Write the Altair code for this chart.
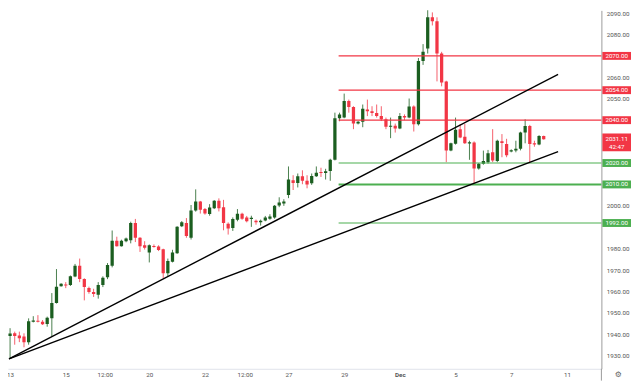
import altair as alt
import pandas as pd

# ---- data (XAU/USD 4H candles) ----
opens = [1947.9,1937.0,1939.3,1940.5,1939.5,1939.0,1936.4,1946.0,1946.3,1945.9,
1944.9,1947.5,1954.7,1962.5,1963.3,1963.1,1967.0,1972.0,1965.9,1961.7,
1959.8,1958.5,1963.1,1966.7,1972.0,1983.7,1981.2,1983.5,1984.0,1992.0,
1985.1,1981.6,1978.2,1981.3,1981.0,1979.7,1968.6,1973.9,1977.9,1990.5,
1992.0,1985.1,1997.8,2002.0,1998.5,1996.2,1998.9,2002.4,1999.4,1991.7,
1989.7,1993.5,1996.3,1994.6,1994.0,1993.1,1992.3,1993.2,1994.0,1994.6,
2000.2,2001.1,2005.1,2012.0,2010.7,2013.8,2011.7,2010.5,2013.8,2015.8,
2015.3,2016.3,2021.5,2040.9,2041.2,2048.9,2046.1,2038.4,2039.3,2045.0,
2044.2,2043.3,2041.9,2040.4,2036.9,2037.4,2036.1,2041.9,2041.2,2046.4,
2038.1,2067.6,2073.4,2088.0,2086.2,2071.1,2058.1,2025.8,2029.0,2035.8,
2032.3,2029.2,2029.6,2017.4,2019.7,2020.4,2025.0,2020.9,2030.2,2028.9,
2025.5,2025.8,2026.6,2034.2,2037.3,2029.2,2028.6,2032.6]

highs = [1949.5,1939.5,1942.9,1941.3,1941.3,1940.5,1947.5,1948.5,1949.0,1946.7,
1948.3,1959.3,1970.5,1963.9,1964.4,1967.5,1972.9,1975.4,1966.2,1962.3,
1961.3,1964.4,1967.1,1973.3,1988.5,1985.6,1984.2,1985.2,1992.6,1993.9,
1985.4,1983.5,1982.0,1982.0,1981.6,1980.0,1975.4,1979.5,1990.5,1992.9,
1994.3,2000.4,2007.7,2002.3,1999.0,2000.8,2002.7,2003.5,2002.8,1992.3,
1994.6,1998.5,1996.8,1995.3,1995.4,1993.6,1993.6,1995.3,1996.1,2000.4,
2004.0,2003.1,2018.4,2014.3,2015.1,2016.6,2014.3,2015.1,2018.4,2017.8,
2017.3,2022.0,2043.5,2043.5,2052.4,2049.6,2046.5,2039.6,2047.3,2049.6,
2046.5,2047.3,2046.5,2041.2,2041.2,2038.4,2043.3,2042.7,2050.1,2046.9,
2069.0,2075.5,2100.0,2090.3,2088.0,2071.9,2058.4,2029.5,2041.2,2038.1,
2038.3,2030.4,2030.1,2020.0,2025.8,2026.1,2035.8,2030.9,2033.5,2031.3,
2026.4,2030.4,2034.6,2040.4,2037.8,2030.4,2033.0,2032.8]

lows = [1935.5,1933.3,1929.0,1935.2,1936.4,1934.0,1935.2,1945.6,1945.6,1944.4,
1943.6,1939.0,1954.4,1962.3,1961.6,1962.6,1966.7,1964.4,1955.9,1959.0,
1957.5,1956.7,1962.1,1965.8,1971.3,1981.0,1981.0,1983.0,1982.5,1983.1,
1978.5,1979.6,1973.6,1980.5,1978.9,1966.2,1967.1,1973.6,1977.6,1990.1,
1985.1,1984.3,1997.3,1996.4,1995.9,1995.4,1998.5,1997.4,1988.6,1986.6,
1988.3,1992.8,1993.5,1992.3,1990.2,1991.2,1990.8,1992.8,1993.5,1994.0,
1999.4,2000.0,2003.6,2007.4,2008.6,2010.1,2008.2,2009.8,2013.5,2013.5,
2012.3,2011.7,2021.2,2039.5,2040.9,2043.5,2035.8,2038.0,2036.7,2041.9,
2041.9,2041.2,2039.6,2035.8,2031.6,2034.2,2035.8,2040.0,2040.9,2034.7,
2037.5,2065.8,2071.1,2084.2,2058.1,2055.8,2020.4,2025.5,2028.6,2031.6,
2028.9,2021.5,2010.5,2016.9,2019.2,2019.7,2020.4,2020.4,2022.7,2022.7,
2025.0,2025.0,2025.9,2029.2,2020.4,2027.6,2028.3,2030.9]

closes = [1936.9,1938.6,1940.4,1939.3,1938.2,1936.3,1946.2,1946.4,1946.0,1944.7,
1947.8,1954.7,1962.3,1963.6,1962.8,1967.1,1972.0,1965.9,1962.1,1959.8,
1958.9,1963.1,1966.4,1972.4,1983.7,1981.2,1983.7,1984.8,1992.0,1985.1,
1981.2,1980.5,1981.6,1980.8,1979.4,1968.6,1974.3,1978.2,1990.2,1992.3,
1985.9,1997.8,2002.0,1998.2,1996.4,1999.2,2002.4,1998.9,1992.0,1989.4,
1993.9,1996.3,1994.0,1992.8,1994.3,1992.3,1993.1,1994.6,1995.0,2000.0,
2001.6,2002.0,2012.3,2010.7,2013.8,2011.7,2010.0,2013.9,2015.5,2015.3,
2016.1,2021.5,2040.9,2042.7,2048.9,2046.2,2038.4,2039.3,2045.3,2044.2,
2043.4,2041.9,2040.4,2036.9,2037.4,2036.1,2041.9,2041.2,2046.4,2038.1,
2067.6,2071.9,2088.0,2086.2,2071.1,2057.6,2025.8,2029.2,2035.5,2031.9,
2029.2,2029.6,2017.4,2019.6,2020.9,2024.6,2021.2,2030.4,2029.3,2023.6,
2025.8,2026.6,2034.2,2037.3,2028.9,2028.6,2032.6,2031.1]

# x-axis ticks (candle index) and their labels
tick_pos = [2, 14, 22.4, 32, 44, 52.6, 62, 74, 86, 98, 110, 122]
tick_labels = ["13", "15", "12:00", "20", "22", "12:00", "27", "29", "Dec", "5", "7", "11"]
month_tick = 86

# y-axis tick values still visible beside the price badges
price_ticks = [1930, 1940, 1950, 1960, 1970, 1980, 2000, 2050, 2060, 2080, 2090]

# horizontal levels
res_levels = [2070, 2054, 2040]
sup_levels = [2020, 2010, 1992]
level_start = 72.8

# trendlines: shared origin, two end points
tl_start = (1.77, 1928.6)
tl_ends = [(120.1, 2061.4), (120.1, 2025.3)]

last_price = 2031.11
countdown = "42:47"

# ---- styling ----
GREEN = "#1b5e20"
RED = "#f23645"
LGREEN = "#4caf50"
FONT = "Roboto"
FS = 6.3

n = len(opens)
rows = []
for i in range(n):
    o, h, l, c = opens[i], highs[i], lows[i], closes[i]
    top, bot = max(o, c), min(o, c)
    if top - bot < 0.5:
        mid = (top + bot) / 2
        top, bot = mid + 0.25, mid - 0.25
    rows.append({"i": i, "open": o, "high": h, "low": l, "close": c,
                 "top": top, "bot": bot, "col": GREEN if c >= o else RED})
df = pd.DataFrame(rows)

lv = pd.DataFrame(
    [{"level": v, "x0": level_start, "x1": 135, "col": RED, "label": f"{v:.2f}"} for v in res_levels]
    + [{"level": v, "x0": level_start, "x1": 135, "col": LGREEN, "label": f"{v:.2f}"} for v in sup_levels]
)

tl = pd.DataFrame([{"x0": tl_start[0], "y0": tl_start[1], "x1": e[0], "y1": e[1]} for e in tl_ends])
cur = pd.DataFrame([{"price": last_price, "label": f"{last_price:.2f}", "timer": countdown}])

xs = alt.Scale(domain=[1.553, 129.43], nice=False, zero=False)
ys = alt.Scale(domain=[1923.96, 2091.244], nice=False, zero=False)

label_expr = ("[" + ",".join(f"'{t}'" for t in tick_labels) + "][indexof([" +
              ",".join(str(p) for p in tick_pos) + "], datum.value)]")

x_axis = alt.Axis(values=tick_pos, labelExpr=label_expr, grid=False, ticks=False,
                  domainColor="#e0e3eb", labelColor="#555555", labelFont=FONT,
                  labelFontSize=FS, labelPadding=3, labelOverlap=False,
                  labelFlush=False, labelBound=False, title=None,
                  labelFontWeight={"condition": {"test": f"datum.value == {month_tick}", "value": "bold"},
                                   "value": "normal"})
y_axis = alt.Axis(orient="right", values=price_ticks, format=".2f",
                  grid=False, ticks=False, domainColor="#9a9a9a", labelColor="#555555",
                  labelFont=FONT, labelFontSize=FS, labelPadding=5, labelAlign="left",
                  labelOverlap=False, labelBound=False, labelFlush=False, title=None)


def X(f):
    return alt.X(f, scale=xs, axis=x_axis, title=None)


def Y(f):
    return alt.Y(f, scale=ys, axis=y_axis, title=None)


base = alt.Chart(df)
wicks = base.mark_rule(strokeWidth=1, clip=True, opacity=0.8).encode(
    x=X("i:Q"), y=Y("low:Q"), y2="high:Q",
    color=alt.Color("col:N", scale=None),
)
bodies = base.mark_rule(strokeWidth=3.3, strokeCap="butt", clip=True).encode(
    x=X("i:Q"), y=Y("bot:Q"), y2="top:Q",
    color=alt.Color("col:N", scale=None),
)

levels = alt.Chart(lv).mark_rule(clip=True).encode(
    x=X("x0:Q"), x2="x1:Q", y=Y("level:Q"),
    color=alt.Color("col:N", scale=None),
    strokeWidth=alt.condition("datum.level == 2010", alt.value(2), alt.value(1.2)),
)

trend = alt.Chart(tl).mark_rule(color="#000000", strokeWidth=1.4, clip=True).encode(
    x=X("x0:Q"), x2="x1:Q", y=Y("y0:Q"), y2="y1:Q",
)

badges = alt.Chart(lv).mark_rule(strokeWidth=8, strokeCap="butt").encode(
    x=alt.value(602), x2=alt.value(631), y=Y("level:Q"),
    color=alt.Color("col:N", scale=None),
)
badge_txt = alt.Chart(lv).mark_text(color="white", font=FONT, fontSize=FS,
                                    align="center", baseline="middle").encode(
    x=alt.value(616.5), y=Y("level:Q"), text="label:N")

cur_badge = alt.Chart(cur).mark_rule(strokeWidth=18, strokeCap="butt", color=RED, yOffset=3.2).encode(
    x=alt.value(602), x2=alt.value(631), y=Y("price:Q"))
cur_txt1 = alt.Chart(cur).mark_text(color="white", font=FONT, fontSize=FS,
                                    align="center", baseline="middle").encode(
    x=alt.value(616.5), y=Y("price:Q"), text="label:N")
cur_txt2 = alt.Chart(cur).mark_text(color="white", font=FONT, fontSize=FS,
                                    align="center", baseline="middle", dy=7.6).encode(
    x=alt.value(616.5), y=Y("price:Q"), text="timer:N")

axis_ext = alt.Chart(cur).mark_rule(color="#9a9a9a", strokeWidth=1).encode(
    x=alt.value(601), y=alt.value(363), y2=alt.value(375))
gear = alt.Chart(cur).mark_text(text="\u2699", color="#666666", fontSize=8,
                                font="DejaVu Sans", align="center", baseline="middle").encode(
    x=alt.value(618), y=alt.value(369))

chart = alt.layer(
    wicks, bodies, levels, trend, badges, badge_txt, cur_badge, cur_txt1, cur_txt2, axis_ext, gear
).properties(
    width=601, height=363, autosize="none",
    padding={"left": 0, "top": 0, "right": 31, "bottom": 12},
    background="white",
).configure_view(stroke=None)

chart.save("out.html", embed_options={"renderer": "svg", "actions": False})
